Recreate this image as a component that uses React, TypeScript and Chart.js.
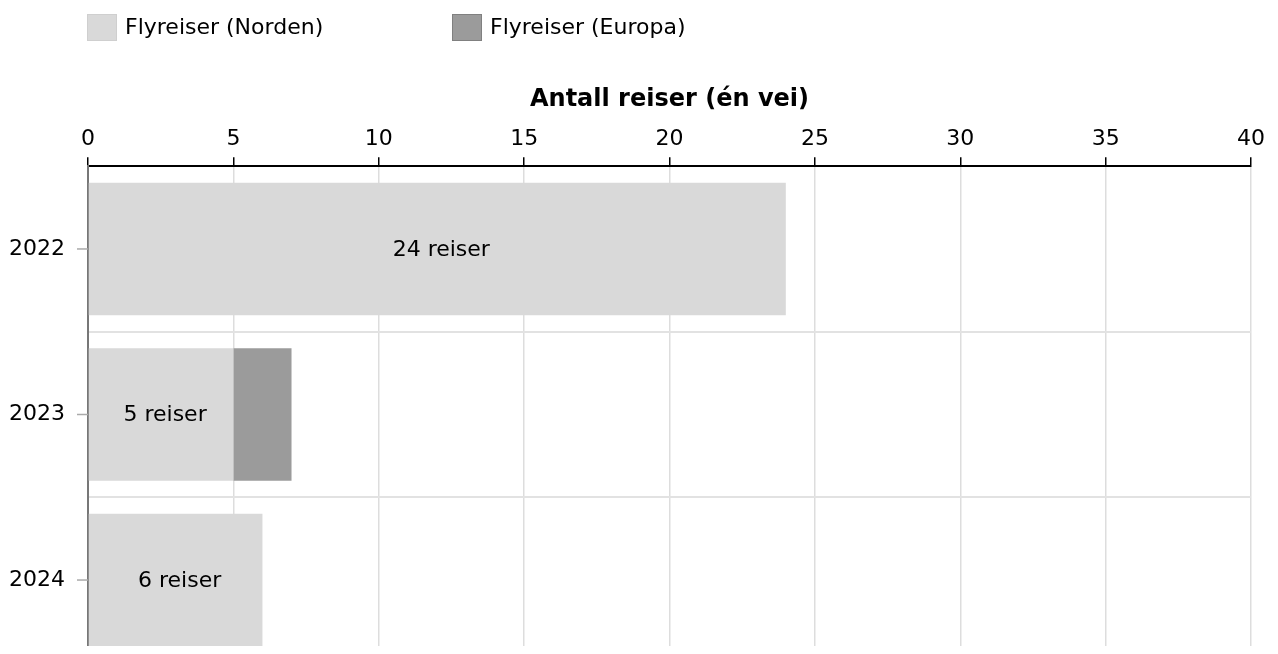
import React, { useEffect, useRef } from "react";
import { Chart, registerables } from "chart.js";

Chart.register(...registerables);

const categories = ["2022", "2023", "2024"];
const nordenValues = [24, 5, 6];
const europaValues = [0, 2, 0];
const seriesLabels = ["Flyreiser (Norden)", "Flyreiser (Europa)"];
const axisTitle = "Antall reiser (én vei)";
const valueSuffix = " reiser";

const FONT = "'DejaVu Sans', Verdana, sans-serif";

const legendPlugin = {
  id: "customLegend",
  afterDraw(chart: any) {
    const ctx = chart.ctx;
    ctx.save();
    const positions = [79, 444];
    chart.data.datasets.forEach((ds: any, i: number) => {
      const x = positions[i];
      ctx.fillStyle = ds.backgroundColor;
      ctx.fillRect(x, 6, 30, 27);
      ctx.strokeStyle = ds.legendBorder;
      ctx.lineWidth = 1;
      ctx.strokeRect(x + 0.5, 6.5, 29, 26);
      ctx.fillStyle = "#000";
      ctx.font = `22px ${FONT}`;
      ctx.textBaseline = "middle";
      ctx.textAlign = "left";
      ctx.fillText(ds.label, x + 38, 20);
    });
    ctx.restore();
  },
};

const labelsPlugin = {
  id: "barLabels",
  afterDatasetsDraw(chart: any) {
    const ctx = chart.ctx;
    const meta = chart.getDatasetMeta(0);
    const ds = chart.data.datasets[0];
    ctx.save();
    ctx.fillStyle = "#000";
    ctx.font = `22px ${FONT}`;
    ctx.textAlign = "center";
    ctx.textBaseline = "middle";
    meta.data.forEach((el: any, i: number) => {
      const v = ds.data[i];
      if (!v) return;
      const cx = (el.x + el.base) / 2 + 4;
      ctx.fillText(`${v}${valueSuffix}`, cx, el.y + 1);
    });
    ctx.restore();
  },
};

const yTickPlugin = {
  id: "yTickMarks",
  afterDraw(chart: any) {
    const ctx = chart.ctx;
    const scale = chart.scales.y;
    const left = chart.chartArea.left;
    ctx.save();
    ctx.strokeStyle = "#aaaaaa";
    ctx.lineWidth = 1.5;
    scale.ticks.forEach((_t: any, i: number) => {
      const y = scale.getPixelForTick(i);
      ctx.beginPath();
      ctx.moveTo(left - 11, y);
      ctx.lineTo(left, y);
      ctx.stroke();
    });
    ctx.restore();
  },
};

export default function App() {
  const ref = useRef<HTMLCanvasElement | null>(null);
  useEffect(() => {
    if (!ref.current) return;
    const chart = new Chart(ref.current, {
      type: "bar",
      data: {
        labels: categories,
        datasets: [
          {
            label: seriesLabels[0],
            data: nordenValues,
            backgroundColor: "#d9d9d9",
            legendBorder: "#cfcfcf",
            categoryPercentage: 0.8,
            barPercentage: 1,
          } as any,
          {
            label: seriesLabels[1],
            data: europaValues,
            backgroundColor: "#9b9b9b",
            legendBorder: "#808080",
            categoryPercentage: 0.8,
            barPercentage: 1,
          } as any,
        ],
      },
      options: {
        indexAxis: "y",
        responsive: false,
        animation: false,
        devicePixelRatio: 1,
        layout: { padding: { top: 77, left: 0, right: 8, bottom: 0 } },
        plugins: {
          legend: { display: false },
          tooltip: { enabled: false },
        },
        scales: {
          x: {
            position: "top",
            stacked: true,
            min: 0,
            max: 40,
            ticks: {
              stepSize: 5,
              color: "#000",
              padding: 5,
              font: { family: FONT, size: 22 },
            },
            grid: {
              color: "#dddddd",
              lineWidth: 1.5,
              tickColor: "#000",
              tickLength: 9,
            },
            border: { color: "#000", width: 2 },
            title: {
              display: true,
              text: axisTitle,
              color: "#000",
              font: { family: FONT, size: 24, weight: "bold" },
              padding: { top: 0, bottom: 7 },
            },
          },
          y: {
            stacked: true,
            afterFit(scale: any) {
              scale.width = 80;
            },
            ticks: {
              color: "#000",
              padding: 12,
              font: { family: FONT, size: 22 },
            },
            grid: {
              offset: true,
              color: "#e2e2e2",
              lineWidth: 2,
              tickColor: "rgba(0,0,0,0)",
              tickLength: 11,
            },
            border: { color: "#777777", width: 2 },
          },
        },
      },
      plugins: [legendPlugin, labelsPlugin, yTickPlugin],
    });
    return () => chart.destroy();
  }, []);
  return (
    <div style={{ width: 1262, height: 638, overflow: "hidden" }}>
      <canvas ref={ref} width={1262} height={680} />
    </div>
  );
}
